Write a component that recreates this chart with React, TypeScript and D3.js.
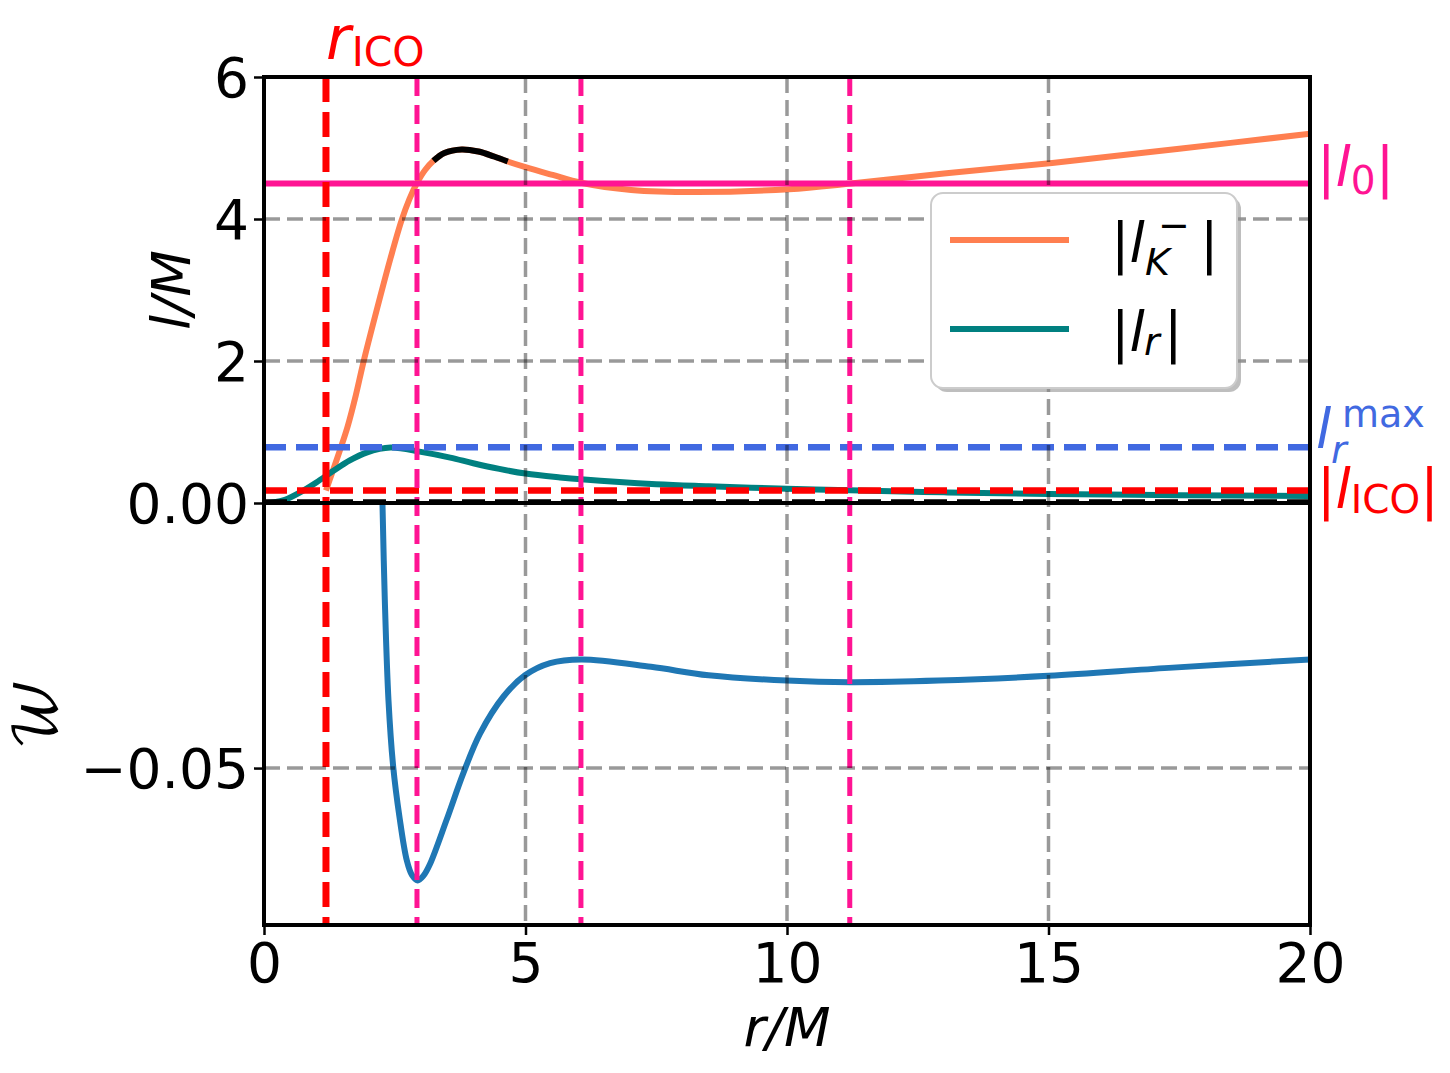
import { useRef, useEffect } from 'react'
import * as d3 from 'd3'

const rTicks = [0, 5, 10, 15, 20]
const lTicks = [2, 4, 6]
const wTicks = [-0.05, 0]

// |l_K^-| against r/M, from the ICO outwards
const lK: [number, number][] = [
  [1.185, 0.175], [1.3, 0.42], [1.45, 0.74], [1.6, 1.08], [1.75, 1.5], [1.9, 1.98],
  [2.22, 2.9], [2.42, 3.45], [2.63, 3.98], [2.78, 4.28], [2.92, 4.5], [3.08, 4.69],
  [3.24, 4.82], [3.45, 4.93], [3.78, 4.98], [4.1, 4.95], [4.4, 4.88], [4.66, 4.81],
  [5.0, 4.73], [5.52, 4.62], [6.06, 4.51], [7.02, 4.41], [8.23, 4.38], [10.04, 4.42],
  [11.22, 4.5], [13.0, 4.64], [15.07, 4.79], [17.5, 4.99], [20.0, 5.2],
]
// part of |l_K^-| drawn in black
const lKBlack: [number, number] = [3.24, 4.66]

// |l_r|
const lR: [number, number][] = [
  [0, 0], [0.2, 0.01], [0.4, 0.045], [0.69, 0.15], [1.0, 0.29], [1.32, 0.45],
  [1.64, 0.6], [1.96, 0.71], [2.42, 0.78], [3.0, 0.72], [3.56, 0.64], [4.0, 0.56],
  [4.5, 0.48], [5.0, 0.415], [5.66, 0.36], [6.06, 0.333], [7.5, 0.263], [8.5, 0.235],
  [10.0, 0.2], [11.2, 0.178], [13.0, 0.15], [15.0, 0.127], [17.5, 0.11], [20.0, 0.099],
]

// W (bottom panel)
const W: [number, number][] = [
  [2.265, 0], [2.31, -0.0183], [2.38, -0.0372], [2.47, -0.0497], [2.59, -0.0592],
  [2.73, -0.0674], [2.83, -0.0702], [2.94, -0.0712], [3.05, -0.0703], [3.17, -0.0682],
  [3.49, -0.0598], [3.81, -0.051], [4.13, -0.0435], [4.58, -0.0365], [4.99, -0.0325],
  [5.47, -0.0302], [6.07, -0.0295], [7.4, -0.0309], [8.5, -0.0325], [10.0, -0.0335],
  [11.2, -0.0338], [12.9, -0.0335], [15.0, -0.0326], [17.3, -0.0311], [20.0, -0.0295],
]

const rICO = 1.185
const lICO = 0.175
const l0 = 4.5
const lRmax = 0.785
const rCross = [2.925, 6.06, 11.2]

const FONT = 'DejaVu Sans'

export default function App() {
  const svgRef = useRef<SVGSVGElement>(null)

  useEffect(() => {
    if (!svgRef.current) return
    const svg = d3.select(svgRef.current)
    svg.selectAll('*').remove()

    const left = 264, right = 1310, top = 77, mid = 503, bottom = 925

    const x = d3.scaleLinear().domain([0, 20]).range([left, right])
    const yT = d3.scaleLinear().domain([0, 6]).range([mid, top])
    const yB = d3.scaleLinear().domain([-0.0796, 0]).range([bottom, mid])

    const defs = svg.append('defs')
    defs.append('clipPath').attr('id', 'clipTop')
      .append('rect').attr('x', left).attr('y', top).attr('width', right - left).attr('height', mid - top)
    defs.append('clipPath').attr('id', 'clipBot')
      .append('rect').attr('x', left).attr('y', mid).attr('width', right - left).attr('height', bottom - mid)

    const gTop = svg.append('g').attr('clip-path', 'url(#clipTop)')
    const gBot = svg.append('g').attr('clip-path', 'url(#clipBot)')

    // Curves
    const curve = d3.curveCatmullRom.alpha(0.5)
    const lineT = d3.line<[number, number]>().x((d) => x(d[0])).y((d) => yT(d[1])).curve(curve)
    const lineB = d3.line<[number, number]>().x((d) => x(d[0])).y((d) => yB(d[1])).curve(curve)

    gTop.append('path').datum(lK).attr('d', lineT)
      .attr('fill', 'none').attr('stroke', '#ff7f50').attr('stroke-width', 6)
    gTop.append('path').datum(lK.filter((d) => d[0] >= lKBlack[0] && d[0] <= lKBlack[1])).attr('d', lineT)
      .attr('fill', 'none').attr('stroke', 'black').attr('stroke-width', 6)
    gTop.append('path').datum(lR).attr('d', lineT)
      .attr('fill', 'none').attr('stroke', '#008080').attr('stroke-width', 6)
    gBot.append('path').datum(W).attr('d', lineB)
      .attr('fill', 'none').attr('stroke', '#1f77b4').attr('stroke-width', 6)

    // Horizontal reference lines
    gTop.append('line').attr('x1', left).attr('x2', right).attr('y1', yT(l0)).attr('y2', yT(l0))
      .attr('stroke', '#ff1493').attr('stroke-width', 6)
    gTop.append('line').attr('x1', left).attr('x2', right).attr('y1', yT(lRmax)).attr('y2', yT(lRmax))
      .attr('stroke', '#4169e1').attr('stroke-width', 6.5).attr('stroke-dasharray', '22,10')
    gTop.append('line').attr('x1', left).attr('x2', right).attr('y1', yT(lICO)).attr('y2', yT(lICO))
      .attr('stroke', 'red').attr('stroke-width', 6.5).attr('stroke-dasharray', '23,10')

    // Vertical reference lines (both panels)
    svg.append('line').attr('x1', x(rICO)).attr('x2', x(rICO)).attr('y1', top).attr('y2', bottom)
      .attr('stroke', 'red').attr('stroke-width', 7).attr('stroke-dasharray', '25,10')
    svg.selectAll('.cross').data(rCross).join('line').attr('class', 'cross')
      .attr('x1', (d) => x(d)).attr('x2', (d) => x(d)).attr('y1', top).attr('y2', bottom)
      .attr('stroke', '#ff1493').attr('stroke-width', 5).attr('stroke-dasharray', '19,9')

    // Grid
    const grid = svg.append('g').attr('stroke', 'black').attr('stroke-opacity', 0.4)
      .attr('stroke-width', 3.5).attr('stroke-dasharray', '16,7')
    grid.selectAll('.gx').data(rTicks.slice(1, -1)).join('line').attr('class', 'gx')
      .attr('x1', (d) => x(d)).attr('x2', (d) => x(d)).attr('y1', top).attr('y2', bottom)
    grid.selectAll('.gyt').data(lTicks.slice(0, -1)).join('line').attr('class', 'gyt')
      .attr('x1', left).attr('x2', right).attr('y1', (d) => yT(d)).attr('y2', (d) => yT(d))
    grid.selectAll('.gyb').data(wTicks.slice(0, -1)).join('line').attr('class', 'gyb')
      .attr('x1', left).attr('x2', right).attr('y1', (d) => yB(d)).attr('y2', (d) => yB(d))

    // Zero line and spines
    svg.append('line').attr('x1', left).attr('x2', right).attr('y1', yB(0) - 1).attr('y2', yB(0) - 1)
      .attr('stroke', 'black').attr('stroke-width', 5.5).attr('stroke-dasharray', '23,10')
    svg.append('rect').attr('x', left).attr('y', top).attr('width', right - left).attr('height', bottom - top)
      .attr('fill', 'none').attr('stroke', 'black').attr('stroke-width', 4)
    svg.append('line').attr('x1', left).attr('x2', right).attr('y1', mid).attr('y2', mid)
      .attr('stroke', 'black').attr('stroke-width', 4)

    // Axes
    const styleAxis = (g: d3.Selection<SVGGElement, unknown, null, undefined>) => {
      g.select('.domain').remove()
      g.selectAll('.tick line').attr('stroke', 'black').attr('stroke-width', 2.5)
      g.selectAll('.tick text').attr('fill', 'black').attr('font-size', 55).attr('font-family', FONT)
    }
    svg.append('g').attr('transform', `translate(${left},0)`)
      .call(d3.axisLeft(yT).tickValues(lTicks).tickFormat(d3.format('d')).tickSize(10).tickPadding(5))
      .call(styleAxis)
      .call((g) => g.selectAll('.tick text').attr('dy', '0.36em'))
    svg.append('g').attr('transform', `translate(${left},0)`)
      .call(d3.axisLeft(yB).tickValues(wTicks).tickFormat(d3.format('.2f')).tickSize(10).tickPadding(5))
      .call(styleAxis)
      .call((g) => g.selectAll('.tick text').attr('dy', '0.36em'))
    svg.append('g').attr('transform', `translate(0,${bottom})`)
      .call(d3.axisBottom(x).tickValues(rTicks).tickFormat(d3.format('d')).tickSize(10).tickPadding(6))
      .call(styleAxis)
      .call((g) => g.selectAll('.tick text').attr('dy', '0.74em'))

    // Axis labels
    svg.append('text').attr('x', (left + right) / 2).attr('y', 1046).attr('text-anchor', 'middle')
      .attr('font-family', FONT).attr('font-style', 'italic').attr('font-size', 54).text('r/M')
    svg.append('text').attr('transform', `translate(190,${(top + mid) / 2}) rotate(-90)`).attr('text-anchor', 'middle')
      .attr('font-family', FONT).attr('font-style', 'italic').attr('font-size', 54).text('l/M')
    svg.append('text').attr('transform', `translate(56,${(mid + bottom) / 2}) rotate(-90)`).attr('text-anchor', 'middle')
      .attr('font-family', "'DejaVu Math TeX Gyre', 'DejaVu Serif', serif").attr('font-size', 58).text('𝒲')

    // r_ICO label
    const tr = svg.append('text').attr('x', x(rICO)).attr('y', 59).attr('fill', 'red').attr('font-family', FONT)
    tr.append('tspan').attr('font-style', 'italic').attr('font-size', 60).text('r')
    tr.append('tspan').attr('font-size', 41).attr('dx', 1).attr('dy', 7).text('ICO')

    // right-hand labels
    const t0 = svg.append('text').attr('x', right + 7).attr('y', yT(l0) + 2).attr('fill', '#ff1493')
      .attr('font-family', FONT).attr('font-size', 55)
    t0.append('tspan').text('|')
    t0.append('tspan').attr('font-style', 'italic').text('l')
    t0.append('tspan').attr('font-size', 39).attr('dy', 8).text('0')
    t0.append('tspan').attr('dy', -8).text('|')

    const yMax = yT(lRmax)
    svg.append('text').attr('x', right + 6).attr('y', yMax + 1).attr('fill', '#4169e1')
      .attr('font-family', FONT).attr('font-style', 'italic').attr('font-size', 55).text('l')
    svg.append('text').attr('x', right + 32).attr('y', yMax - 20).attr('fill', '#4169e1')
      .attr('font-family', FONT).attr('font-size', 38).text('max')
    svg.append('text').attr('x', right + 21).attr('y', yMax + 16).attr('fill', '#4169e1')
      .attr('font-family', FONT).attr('font-style', 'italic').attr('font-size', 38).text('r')

    const ti = svg.append('text').attr('x', right + 7).attr('y', yT(lICO) + 17).attr('fill', 'red')
      .attr('font-family', FONT).attr('font-size', 55)
    ti.append('tspan').text('|')
    ti.append('tspan').attr('font-style', 'italic').text('l')
    ti.append('tspan').attr('font-size', 39).attr('dy', 5).text('ICO')
    ti.append('tspan').attr('dy', -5).text('|')

    // Legend
    const lg = svg.append('g').attr('transform', 'translate(931,193)')
    lg.append('rect').attr('x', 4).attr('y', 4).attr('width', 306).attr('height', 195).attr('rx', 12)
      .attr('fill', '#888').attr('opacity', 0.55)
    lg.append('rect').attr('width', 306).attr('height', 195).attr('rx', 12)
      .attr('fill', 'white').attr('stroke', '#cccccc').attr('stroke-width', 2)
    const items = [
      { color: '#ff7f50', dy: 47 },
      { color: '#008080', dy: 136 },
    ]
    lg.selectAll('.lgline').data(items).join('line').attr('class', 'lgline')
      .attr('x1', 19).attr('x2', 138).attr('y1', (d) => d.dy).attr('y2', (d) => d.dy)
      .attr('stroke', (d) => d.color).attr('stroke-width', 6)

    const addText = (tx: number, ty: number, s: string, size: number, italic: boolean) =>
      lg.append('text').attr('x', tx).attr('y', ty).attr('font-family', FONT).attr('font-size', size)
        .attr('font-style', italic ? 'italic' : 'normal').text(s)
    addText(180, 69, '|', 55, false)
    addText(198.5, 69, 'l', 55, true)
    addText(214, 82, 'K', 38, true)
    addText(227, 45, '\u2212', 38, false)
    addText(269, 69, '|', 55, false)
    addText(180, 158, '|', 55, false)
    addText(198.5, 158, 'l', 55, true)
    addText(213, 162, 'r', 38, true)
    addText(233, 158, '|', 55, false)
  }, [])

  return (
    <svg
      ref={svgRef}
      width={1450}
      height={1073}
      style={{ position: 'absolute', left: 0, top: 0, background: 'white' }}
    />
  )
}
